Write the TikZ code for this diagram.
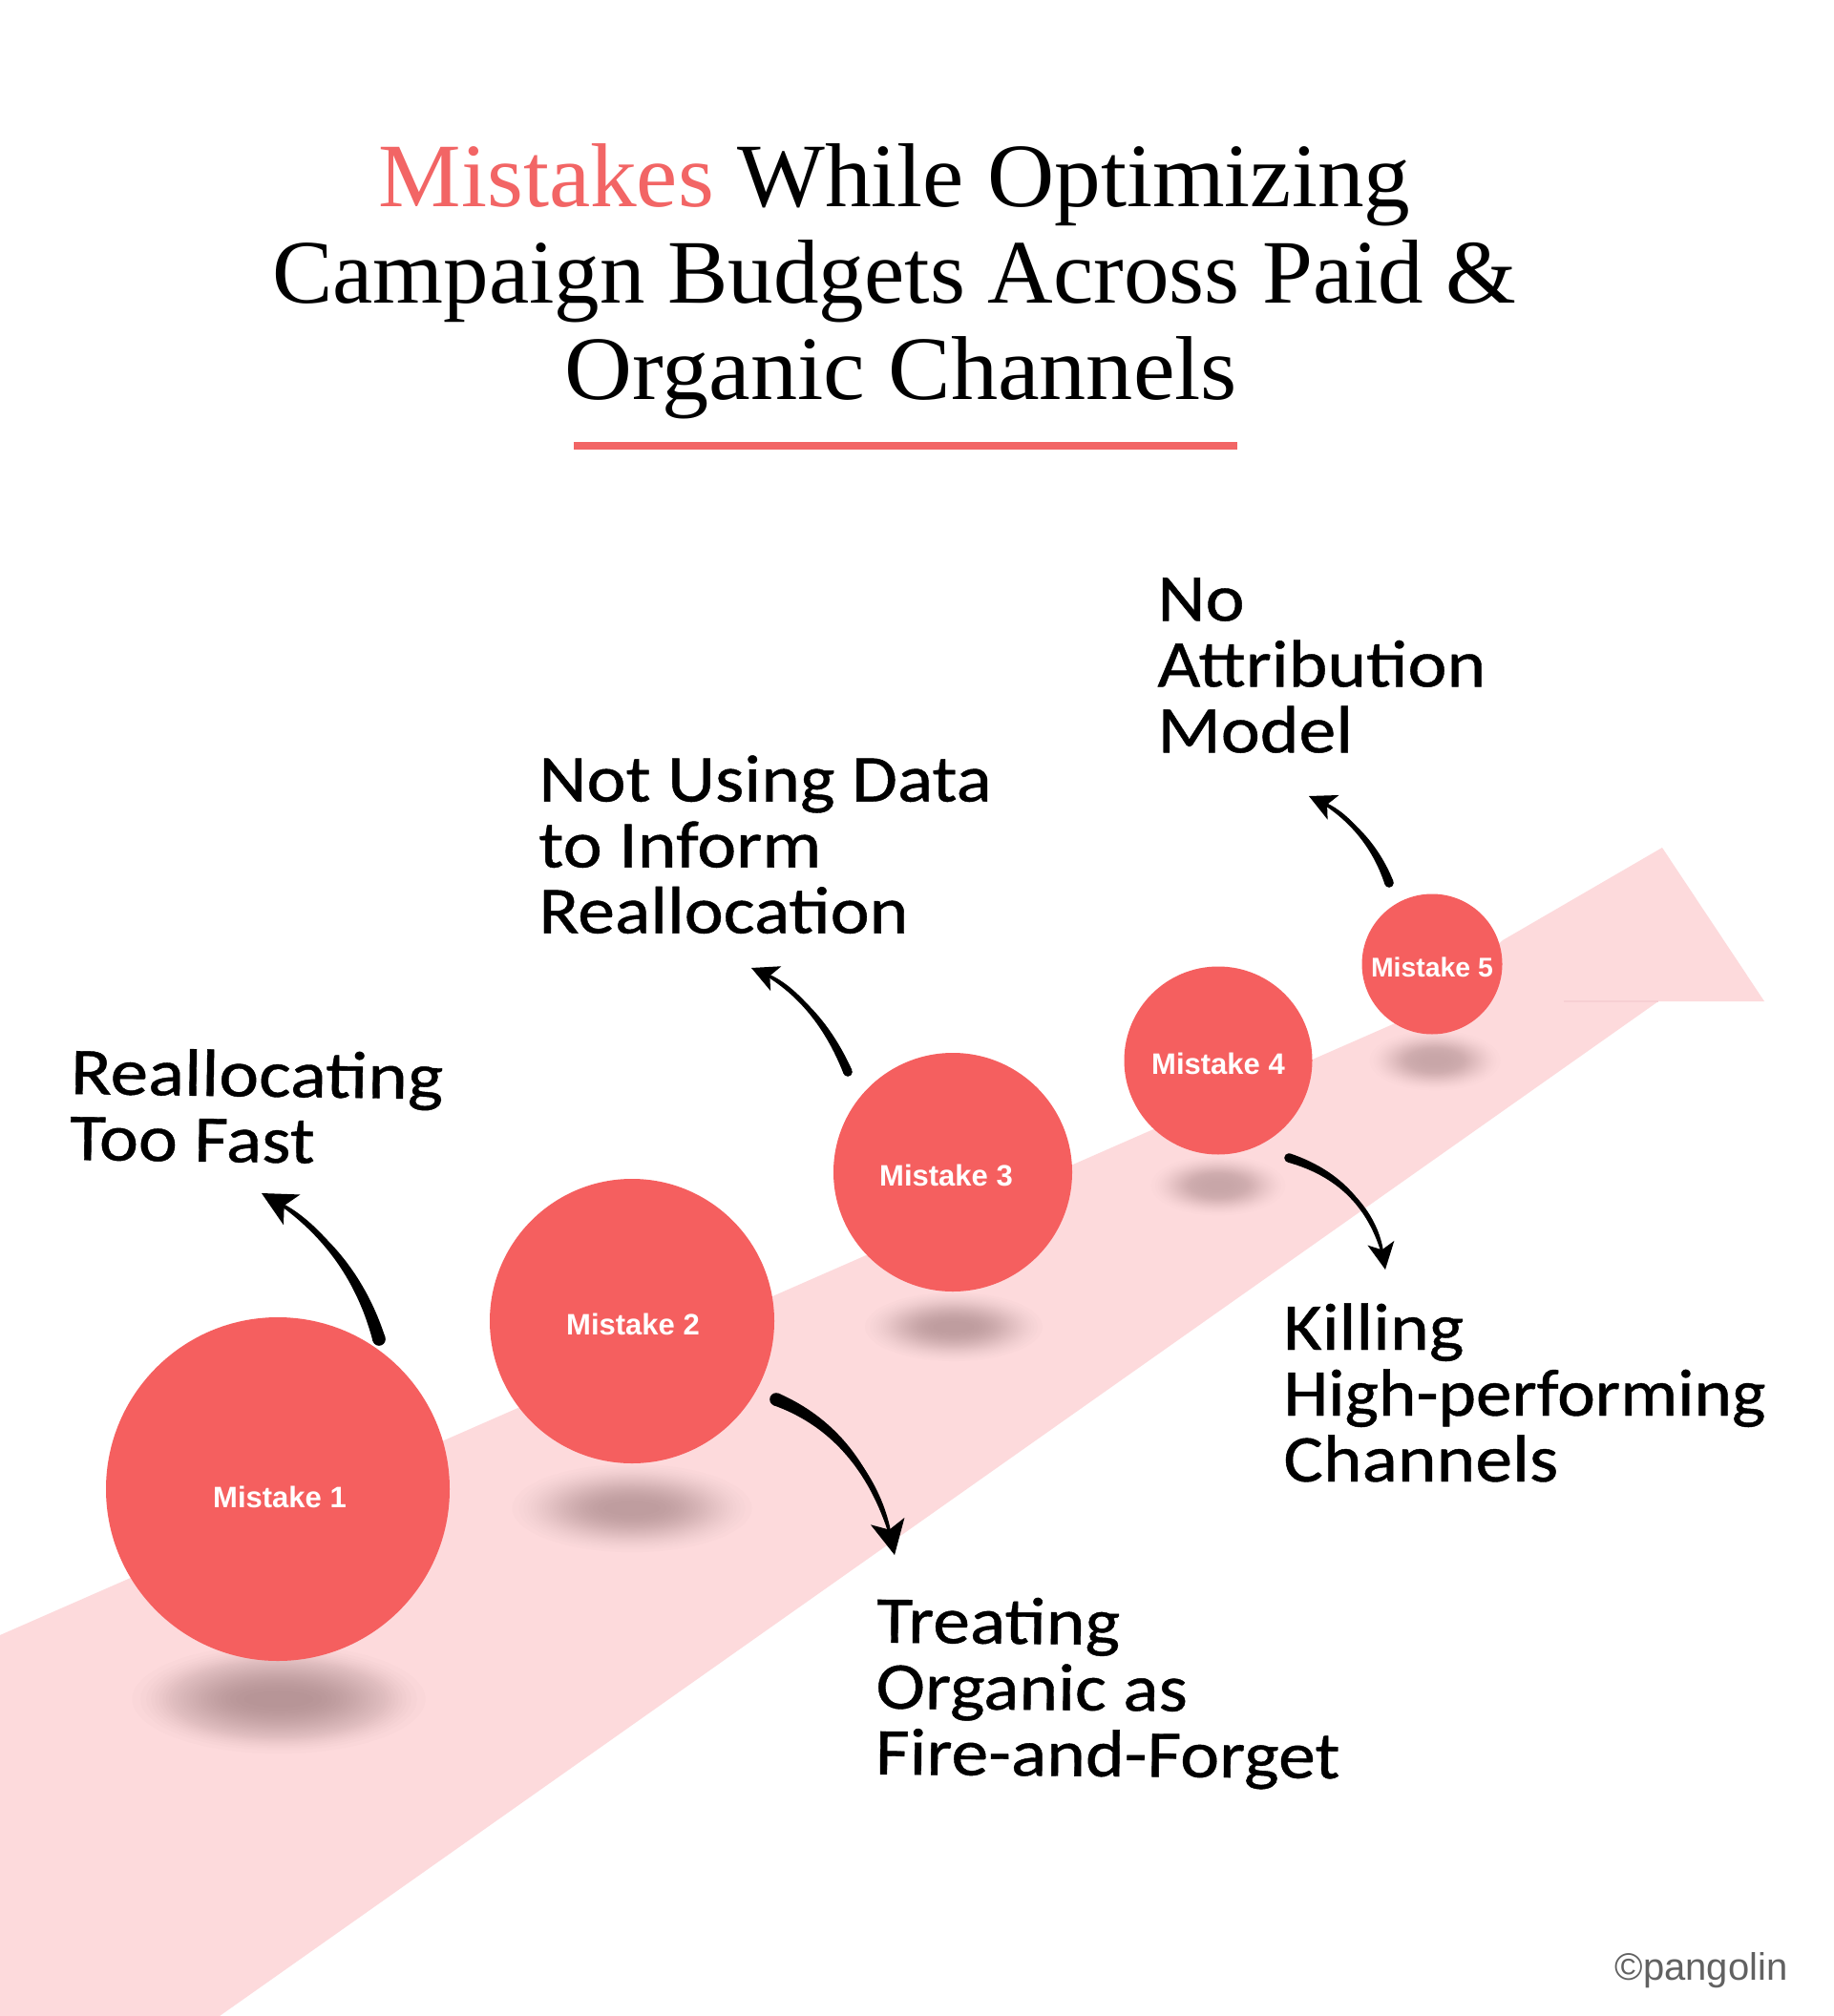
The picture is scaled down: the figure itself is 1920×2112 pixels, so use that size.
\documentclass[tikz,border=0pt]{standalone}
\usepackage{fontspec}
\usepackage{graphicx}
\usetikzlibrary{calc,arrows.meta}
\setmainfont{Liberation Serif}
\newfontfamily\handfont[FakeBold=0.6,FakeStretch=1.11]{Carlito}
\newfontfamily\handfontnarrow[FakeBold=0.6,FakeStretch=1.075]{Carlito}
\newfontfamily\labelfont{Liberation Sans}
\definecolor{coral}{HTML}{F55F5F}
\definecolor{titlered}{HTML}{F26565}
\definecolor{ribbonpink}{HTML}{FDDADC}
\definecolor{ribbonedge}{HTML}{F7CFD3}
\definecolor{shadowtone}{HTML}{7A5A5C}
\tikzset{
  ball/.style={circle,fill=coral,draw=none,inner sep=0pt,minimum size=#1},
  balltext/.style={font=\labelfont\bfseries\fontsize{15.5}{18}\selectfont,text=white,inner sep=0pt},
  handlabel/.style={font=\handfont\fontsize{35}{34.5}\selectfont,align=left,anchor=north west,inner sep=0pt,text=black},
  sketcharrow/.style={draw=black,line width=1.2pt,-{Stealth[length=18pt,width=18pt,inset=4.5pt]}},
  smallarrow/.style={draw=black,line width=1.2pt,-{Stealth[length=14pt,width=14pt,inset=3.5pt]}},
}
% soft blurred ellipse: x, y, core rx, core ry, fall-off rx, fall-off ry, opacity per layer
\newcommand{\softshadow}[7]{%
  \foreach \k in {0,...,29}{%
    \pgfmathsetmacro{\g}{acos(2*(\k+0.5)/30-1)/180}%
    \fill[shadowtone,opacity=#7] (#1,#2) ellipse ({#3+#5*\g} and {#4+#6*\g});
  }%
}
% tapered body of an arrow from coordinate s to coordinate e
\newcommand{\taperbody}[5]{%
  \fill[black] ($(#1)!#5!90:(#2)$) .. controls ($(#2)!#5*0.75!90:(#3)$) and ($(#3)!#5*0.45!90:(#4)$) .. (#4)
     .. controls ($(#3)!#5*0.45!-90:(#4)$) and ($(#2)!#5*0.75!-90:(#3)$) .. ($(#1)!#5!-90:(#2)$) -- cycle;
  \fill[black] (#1) circle[radius=#5];
}
\begin{document}
\begin{tikzpicture}[x=0.5pt,y=-0.5pt]
\useasboundingbox (0,0) rectangle (1920,2112);
\fill[white] (0,0) rectangle (1920,2112);

% ribbon arrow
\fill[ribbonpink] (0,1713) -- (1500,1055) -- (1574,985) -- (1741,888) -- (1848,1049) -- (1737,1049) -- (230,2112) -- (0,2112) -- cycle;
\draw[ribbonedge,line width=0.6pt] (1638,1049) -- (1737,1049);

% shadows
\softshadow{292}{1780}{25}{4}{140}{58}{0.0185}
\softshadow{662}{1580}{20}{4}{115}{46}{0.0175}
\softshadow{999}{1390}{15}{3}{85}{36}{0.015}
\softshadow{1276}{1242}{8}{2}{68}{32}{0.011}
\softshadow{1503}{1111}{8}{2}{66}{32}{0.011}

% balls
\node[ball=360*0.5pt] (b1) at (291,1560) {};
\node[ball=298*0.5pt] (b2) at (662,1384) {};
\node[ball=250*0.5pt] (b3) at (998,1228) {};
\node[ball=197*0.5pt] (b4) at (1276,1111) {};
\node[ball=147*0.5pt] (b5) at (1500,1010) {};
\node[balltext] (t1) at (293,1568) {Mistake 1};
\node[balltext] (t2) at (663,1387) {Mistake 2};
\node[balltext] (t3) at (991,1231) {Mistake 3};
\node[balltext] (t4) at (1276,1114) {Mistake 4};
\node[balltext,font=\labelfont\bfseries\fontsize{14.2}{16}\selectfont] (t5) at (1500,1013) {Mistake 5};

% title
\node[inner sep=0pt,align=center,font=\fontsize{47.5}{50.5}\selectfont] (title) at (937,295)
  {\scalebox{1.024}[1]{\textcolor{titlered}{Mistakes} While Optimizing}\\Campaign Budgets Across Paid \&\\\hspace*{6.8pt}\scalebox{1.034}[1]{Organic Channels}};
\coordinate (ul) at (601,467);
\coordinate (ur) at (1296,467);
\draw[titlered,line width=3.7pt] (ul) -- (ur);

% handwritten labels
\node[handlabel,rotate=-0.8] (h1) at (74,1097) {\scalebox{1.02}[1]{Reallocating}\\Too Fast};
\node[handlabel] (h3) at (564,791) {Not Using Data\\to Inform\\Reallocation};
\node[handlabel] (h5) at (1212,605) {No\\Attribution\\Model};
\node[handlabel] (h4) at (1344,1365) {Killing\\{\handfontnarrow High-performing}\\Channels};
\node[handlabel,rotate=-0.5] (h2) at (918,1672) {Treating\\Organic as\\Fire-and-Forget};

% arrows
\coordinate (s1) at (397,1403); \coordinate (p1) at (377,1335); \coordinate (q1) at (336,1284); \coordinate (e1) at (274,1250);
\coordinate (s2) at (813,1466); \coordinate (p2) at (878,1492); \coordinate (q2) at (920,1547); \coordinate (e2) at (937,1629);
\coordinate (s3) at (888,1123); \coordinate (p3) at (866,1071); \coordinate (q3) at (833,1034); \coordinate (e3) at (787,1014);
\coordinate (s4) at (1350,1213); \coordinate (p4) at (1408,1231); \coordinate (q4) at (1441,1270); \coordinate (e4) at (1451,1330);
\coordinate (s5) at (1455,925); \coordinate (p5) at (1440,884); \coordinate (q5) at (1412,853); \coordinate (e5) at (1371,834);

\draw[sketcharrow] (s1) .. controls (p1) and (q1) .. (e1);
\taperbody{s1}{p1}{q1}{e1}{3.4pt}
\draw[sketcharrow] (s2) .. controls (p2) and (q2) .. (e2);
\taperbody{s2}{p2}{q2}{e2}{3.4pt}
\draw[smallarrow] (s3) .. controls (p3) and (q3) .. (e3);
\taperbody{s3}{p3}{q3}{e3}{2.4pt}
\draw[smallarrow] (s4) .. controls (p4) and (q4) .. (e4);
\taperbody{s4}{p4}{q4}{e4}{2.4pt}
\draw[smallarrow] (s5) .. controls (p5) and (q5) .. (e5);
\taperbody{s5}{p5}{q5}{e5}{2.4pt}

% credit
\node[inner sep=0pt,font=\labelfont\fontsize{20}{24}\selectfont,text=black!62] (credit) at (1782,2064) {©pangolin};
\end{tikzpicture}
\end{document}
